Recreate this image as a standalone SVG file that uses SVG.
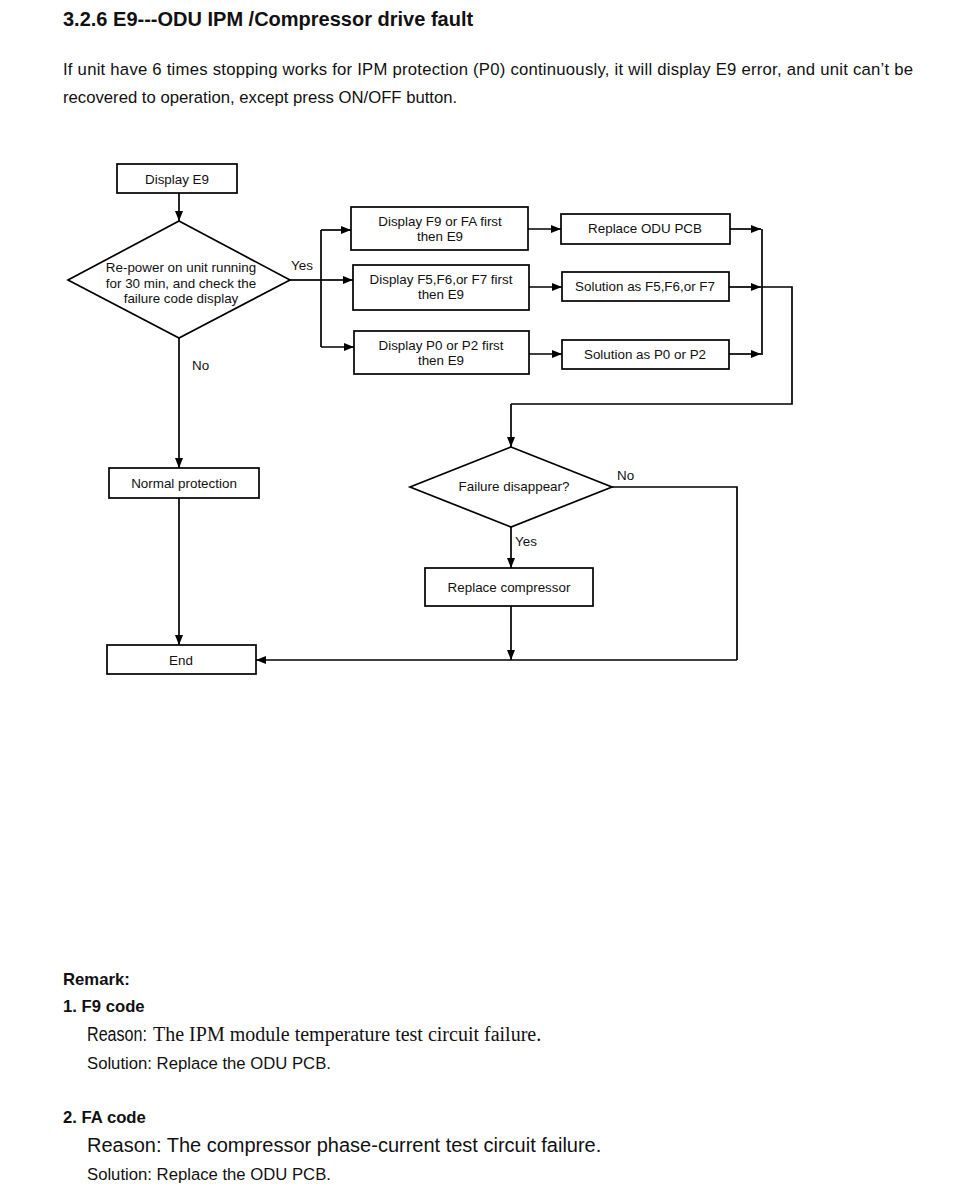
<svg xmlns="http://www.w3.org/2000/svg" width="962" height="1200" viewBox="0 0 962 1200">
<style>
.bg{fill:#fff}
.box{fill:#fff;stroke:#000;stroke-width:1.7}
.t{font-family:"Liberation Sans",Arial,sans-serif;font-size:13.4px;fill:#111;text-anchor:middle}
.lbl{font-family:"Liberation Sans",Arial,sans-serif;font-size:13.4px;fill:#111}
.ln{fill:none;stroke:#000;stroke-width:1.7}
.arr{marker-end:url(#ah)}
.h{font-family:"Liberation Sans",Arial,sans-serif;font-weight:bold;font-size:20px;fill:#111}
.p{font-family:"Liberation Sans",Arial,sans-serif;font-size:16.7px;fill:#111}
.b{font-family:"Liberation Sans",Arial,sans-serif;font-weight:bold;font-size:16.7px;fill:#111}
.r{font-family:"Liberation Sans",Arial,sans-serif;font-size:20px;fill:#111}
.s{font-family:"Liberation Serif","Times New Roman",serif;font-size:20px;fill:#111}
</style>
<defs>
<marker id="ah" markerWidth="10" markerHeight="8" refX="10" refY="4" orient="auto" markerUnits="userSpaceOnUse">
<path d="M0,0 L10,4 L0,8 Z" fill="#000"/>
</marker>
</defs>
<rect class="bg" x="0" y="0" width="962" height="1200"/>

<text class="h" x="63" y="26">3.2.6 E9---ODU IPM /Compressor drive fault</text>
<text class="p" x="63" y="75" textLength="850" lengthAdjust="spacing">If unit have 6 times stopping works for IPM protection (P0) continuously, it will display E9 error, and unit can’t be</text>
<text class="p" x="63" y="103">recovered to operation, except press ON/OFF button.</text>

<g id="connectors">
<path class="ln arr" d="M179,193 V221"/>
<path class="ln" d="M290,280 H321"/>
<path class="ln" d="M321,230 V347"/>
<path class="ln arr" d="M321,230 H351"/>
<path class="ln arr" d="M321,280 H353"/>
<path class="ln arr" d="M321,347 H354"/>
<path class="ln arr" d="M528,229 H561"/>
<path class="ln arr" d="M529,287 H562"/>
<path class="ln arr" d="M529,354 H562"/>
<path class="ln arr" d="M730,229 H761"/>
<path class="ln arr" d="M729,287 H761"/>
<path class="ln arr" d="M729,354 H761"/>
<path class="ln" d="M762,229 V355"/>
<path class="ln" d="M762,287 H792 V404 H511"/>
<path class="ln arr" d="M511,404 V447"/>
<path class="ln arr" d="M179,338 V468"/>
<path class="ln arr" d="M179,498 V645"/>
<path class="ln arr" d="M511,527 V568"/>
<path class="ln arr" d="M511,606 V660"/>
<path class="ln" d="M612,487 H737 V660"/>
<path class="ln arr" d="M737,660 H256"/>
<text class="lbl" x="291" y="270">Yes</text>
<text class="lbl" x="192" y="370">No</text>
<text class="lbl" x="617" y="480">No</text>
<text class="lbl" x="515" y="546">Yes</text>
</g>

<g id="display-e9">
<rect class="box" x="117" y="164" width="120" height="29"/>
<text class="t" x="177" y="184">Display E9</text>
</g>
<g id="repower">
<polygon class="box" points="179,221 290,280 179,338 68,280"/>
<text class="t" x="181" y="272">Re-power on unit running</text>
<text class="t" x="181" y="288">for 30 min, and check the</text>
<text class="t" x="181" y="303">failure code display</text>
</g>
<g id="display-f9">
<rect class="box" x="351" y="207" width="177" height="43"/>
<text class="t" x="440" y="226">Display F9 or FA first</text>
<text class="t" x="440" y="241">then E9</text>
</g>
<g id="display-f5">
<rect class="box" x="353" y="265" width="176" height="45"/>
<text class="t" x="441" y="284">Display F5,F6,or F7 first</text>
<text class="t" x="441" y="299">then E9</text>
</g>
<g id="display-p0">
<rect class="box" x="354" y="331" width="175" height="43"/>
<text class="t" x="441" y="350">Display P0 or P2 first</text>
<text class="t" x="441" y="365">then E9</text>
</g>
<g id="replace-pcb">
<rect class="box" x="561" y="214" width="169" height="30"/>
<text class="t" x="645" y="233">Replace ODU PCB</text>
</g>
<g id="solution-f5">
<rect class="box" x="562" y="272" width="167" height="29"/>
<text class="t" x="645" y="291">Solution as F5,F6,or F7</text>
</g>
<g id="solution-p0">
<rect class="box" x="562" y="340" width="167" height="29"/>
<text class="t" x="645" y="359">Solution as P0 or P2</text>
</g>
<g id="failure-disappear">
<polygon class="box" points="511,447 612,487 511,527 410,487"/>
<text class="t" x="514" y="491">Failure disappear?</text>
</g>
<g id="replace-compressor">
<rect class="box" x="425" y="568" width="168" height="38"/>
<text class="t" x="509" y="592">Replace compressor</text>
</g>
<g id="normal-protection">
<rect class="box" x="109" y="468" width="150" height="30"/>
<text class="t" x="184" y="488">Normal protection</text>
</g>
<g id="end">
<rect class="box" x="107" y="645" width="149" height="29"/>
<text class="t" x="181" y="665">End</text>
</g>

<text class="b" x="63" y="985">Remark:</text>
<text class="b" x="63" y="1012">1. F9 code</text>
<text class="r" x="87" y="1041" style="font-size:19.5px" textLength="60" lengthAdjust="spacingAndGlyphs">Reason:</text>
<text class="s" x="153" y="1041">The IPM module temperature test circuit failure.</text>
<text class="p" x="87" y="1069">Solution: Replace the ODU PCB.</text>
<text class="b" x="63" y="1123">2. FA code</text>
<text class="r" x="87" y="1152">Reason: The compressor phase-current test circuit failure.</text>
<text class="p" x="87" y="1180">Solution: Replace the ODU PCB.</text>
</svg>
